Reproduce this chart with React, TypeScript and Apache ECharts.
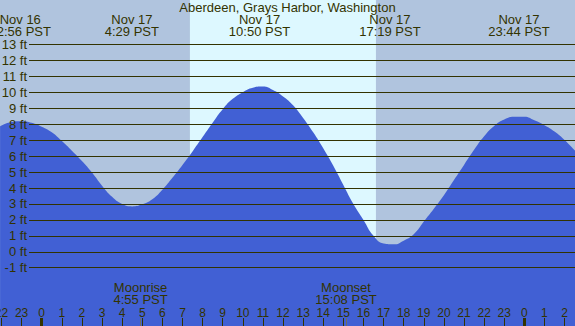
import React, { useEffect, useRef } from "react";
import * as echarts from "echarts";

const tideHours = [-2.07, -1.5, -1, -0.5, 0, 0.5, 1, 1.5, 2, 2.5, 3, 3.5, 4, 4.5, 5, 5.5, 6, 6.5, 7, 7.5, 8, 8.5, 9, 9.5, 10, 10.5, 11, 11.5, 12, 12.5, 13, 13.5, 14, 14.5, 15, 15.5, 16, 16.5, 17, 17.5, 18, 18.5, 19, 19.5, 20, 20.5, 21, 21.5, 22, 22.5, 23, 23.5, 24, 24.5, 25, 25.5, 26, 26.52];
const tideFeet = [7.88, 8.15, 8.2, 8.1, 7.85, 7.5, 6.95, 6.35, 5.7, 4.98, 4.15, 3.45, 3.0, 2.85, 2.98, 3.3, 3.9, 4.65, 5.45, 6.3, 7.2, 8.1, 8.95, 9.6, 10.02, 10.3, 10.37, 10.15, 9.75, 9.2, 8.4, 7.5, 6.5, 5.4, 4.2, 3.0, 2.0, 1.0, 0.52, 0.47, 0.7, 1.1, 1.9, 2.7, 3.55, 4.5, 5.45, 6.4, 7.25, 7.9, 8.3, 8.48, 8.47, 8.25, 7.95, 7.55, 7.02, 6.35];

const eventHours = [-1.067, 4.483, 10.833, 17.317, 23.733];
const eventLabels = ["Nov 16\n22:56 PST", "Nov 17\n4:29 PST", "Nov 17\n10:50 PST", "Nov 17\n17:19 PST", "Nov 17\n23:44 PST"];

const moonHours = [4.917, 15.133];
const moonLabels = ["Moonrise\n4:55 PST", "Moonset\n15:08 PST"];

const daylight = [7.37, 16.62]; // sunrise, sunset
const hourTicks = [-2, -1, 0, 1, 2, 3, 4, 5, 6, 7, 8, 9, 10, 11, 12, 13, 14, 15, 16, 17, 18, 19, 20, 21, 22, 23, 24, 25, 26];
const midnightTicks = [0, 24];
const feetMin = -1;
const feetMax = 13;

const title = "Aberdeen, Grays Harbor, Washington";

const X_MIN = -2.074;
const X_MAX = 26.519;
const Y_MIN = -4.658;
const Y_MAX = 15.806;

const INK = "#333300";
const NIGHT = "#B0C4DE";
const DAY = "#DDF8FF";
const WATER = "#4160D4";
const FONT = "'Liberation Sans', Arial, sans-serif";

export default function App() {
  const ref = useRef<HTMLDivElement>(null);
  useEffect(() => {
    if (!ref.current) return;
    const chart = echarts.init(ref.current, null, { renderer: "svg" });
    const data = tideHours.map((h, i) => [h, tideFeet[i]]);
    const baseX = {
      type: "value",
      min: X_MIN,
      max: X_MAX,
      gridIndex: 0,
      position: "bottom",
      offset: 0,
      splitLine: { show: false },
      axisLine: { show: false, onZero: false },
    };
    chart.setOption({
      animation: false,
      backgroundColor: NIGHT,
      textStyle: { fontFamily: FONT },
      grid: [
        { left: 0, right: 0, top: 0, bottom: 0, containLabel: false, outerBoundsMode: "none" },
        { left: 29, right: 0, top: 44.7, bottom: 58.3, containLabel: false, outerBoundsMode: "none" },
      ],
      xAxis: [
        {
          ...baseX,
          z: 10,
          axisTick: { show: true, inside: true, length: 8, customValues: hourTicks, lineStyle: { color: INK, width: 1 } },
          axisLabel: {
            show: true,
            inside: true,
            margin: 7,
            customValues: hourTicks,
            color: INK,
            fontSize: 12,
            fontFamily: FONT,
            formatter: (v: number) => String(((Math.round(v) % 24) + 24) % 24),
          },
        },
        {
          ...baseX,
          z: 11,
          axisTick: { show: true, inside: true, length: 8, customValues: midnightTicks, lineStyle: { color: INK, width: 3 } },
          axisLabel: { show: false },
        },
        {
          ...baseX,
          z: 11,
          axisTick: { show: true, inside: true, length: 8, customValues: moonHours, lineStyle: { color: "#6f6f60", width: 1 } },
          axisLabel: { show: false },
        },
        { type: "value", gridIndex: 1, min: X_MIN, max: X_MAX, show: false, axisLine: { onZero: false } },
      ],
      yAxis: [
        { type: "value", gridIndex: 0, min: Y_MIN, max: Y_MAX, show: false, axisLine: { onZero: false } },
        {
          type: "value",
          gridIndex: 1,
          min: feetMin,
          max: feetMax,
          interval: 1,
          z: 10,
          axisLine: { show: false, onZero: false },
          axisTick: { show: false },
          axisLabel: { color: INK, fontSize: 13, fontFamily: FONT, margin: 2, formatter: (v: number) => `${v} ft` },
          splitLine: { show: true, showMinLine: true, showMaxLine: true, lineStyle: { color: INK, width: 1 } },
        },
      ],
      series: [
        {
          type: "line",
          xAxisIndex: 0,
          yAxisIndex: 0,
          z: 1,
          data: [],
          silent: true,
          markArea: {
            silent: true,
            itemStyle: { color: DAY, opacity: 1 },
            data: [[{ xAxis: daylight[0] }, { xAxis: daylight[1] }]],
          },
        },
        {
          type: "line",
          xAxisIndex: 0,
          yAxisIndex: 0,
          z: 2,
          data,
          smooth: 0.5,
          showSymbol: false,
          symbol: "none",
          lineStyle: { width: 0 },
          areaStyle: { color: WATER, opacity: 1, origin: "start" },
        },
      ],
    });

    const px = (h: number) => chart.convertToPixel({ xAxisIndex: 0 }, h) as number;
    const graphic: any[] = [
      {
        type: "text",
        x: 287.5,
        y: 7.5,
        z: 20,
        style: { text: title, fill: INK, font: `13px ${FONT}`, align: "center", verticalAlign: "middle" },
      },
    ];
    eventHours.forEach((h, i) => {
      graphic.push({
        type: "text",
        x: px(h),
        y: 25.5,
        z: 20,
        style: { text: eventLabels[i], fill: INK, font: `13px ${FONT}`, align: "center", verticalAlign: "middle", lineHeight: 12.5 },
      });
    });
    moonHours.forEach((h, i) => {
      graphic.push({
        type: "text",
        x: px(h),
        y: 293.3,
        z: 20,
        style: { text: moonLabels[i], fill: INK, font: `13px ${FONT}`, align: "center", verticalAlign: "middle", lineHeight: 12.5 },
      });
    });
    chart.setOption({ graphic });

    return () => chart.dispose();
  }, []);
  return <div ref={ref} style={{ position: "fixed", left: 0, top: 0, width: 575, height: 326 }} />;
}
